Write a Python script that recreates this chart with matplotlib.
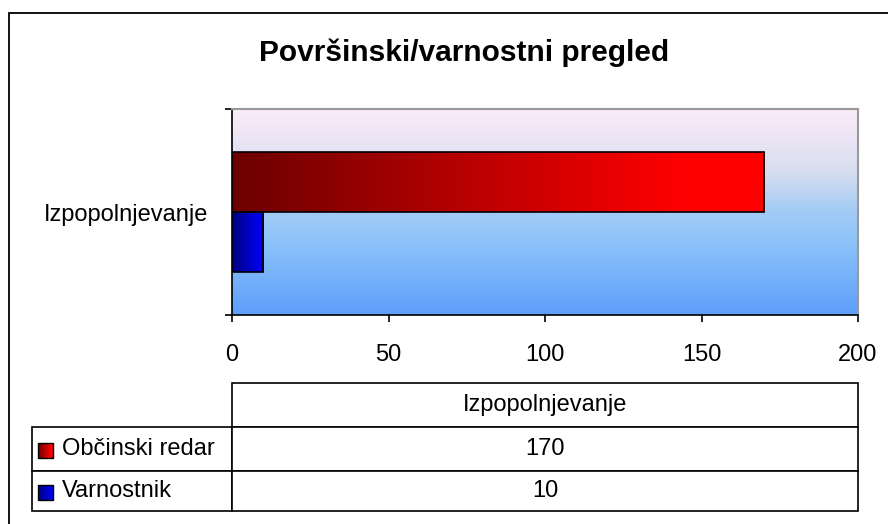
import numpy as np
import matplotlib
matplotlib.use('Agg')
import matplotlib.pyplot as plt
from matplotlib.colors import LinearSegmentedColormap
from matplotlib.patches import Rectangle
from matplotlib.table import Table

# Podatki
categories = ['Izpopolnjevanje']
series_names = ['Občinski redar', 'Varnostnik']
obcinski_redar = [170]
varnostnik = [10]
x_ticks = [0, 50, 100, 150, 200]

plt.rcParams['font.family'] = ['Liberation Sans', 'DejaVu Sans']
FS = 17

bg_cmap = LinearSegmentedColormap.from_list('bg', [
    (0.0, '#fcebf9'), (0.3, '#d8def0'), (0.5, '#a2cbf5'),
    (0.65, '#8cc3fb'), (1.0, '#5e9efa')])
red_cmap = LinearSegmentedColormap.from_list('red', [(0.0, '#6c0000'), (0.85, '#ff0000'), (1.0, '#ff0000')])
blue_cmap = LinearSegmentedColormap.from_list('blue', [(0.0, '#000080'), (1.0, '#0000ff')])
grad = np.linspace(0, 1, 256).reshape(1, -1)


def fill_gradient(ax, patch, cmap):
    # horizontalni preliv znotraj pravokotnika
    x, y = patch.get_x(), patch.get_y()
    w, h = patch.get_width(), patch.get_height()
    im = ax.imshow(grad, cmap=cmap, aspect='auto', extent=(x, x + w, y, y + h),
                   zorder=patch.get_zorder() - 0.1, interpolation='bilinear')
    im.set_clip_path(patch)


fig = plt.figure(figsize=(8.88, 5.24), dpi=100)

# zunanji okvir
fig.add_artist(Rectangle((9 / 888, -0.2), 1.2, 1.2 - 13 / 524,
                         transform=fig.transFigure, fill=False, ec='black', lw=1.3))

fig.text(464 / 888, 1 - 61 / 524, 'Površinski/varnostni pregled',
         ha='center', va='baseline', fontsize=21.5, fontweight='bold')

ax = fig.add_axes([232 / 888, 1 - 315 / 524, 626 / 888, 206 / 524])
ax.set_xlim(0, 200)

# ozadje z vertikalnim prelivom (svetlo zgoraj, modro spodaj)
ax.imshow(np.linspace(0, 1, 256).reshape(-1, 1), cmap=bg_cmap, aspect='auto',
          extent=(0, 200, -0.5, 0.5), zorder=0, interpolation='bilinear')
ax.set_ylim(-0.5, 0.5)

bar_h = 0.29
y = np.arange(len(categories))
bars_r = ax.barh(y + bar_h / 2, obcinski_redar, height=bar_h, facecolor='none',
                 edgecolor='black', linewidth=1.2, zorder=3)
bars_b = ax.barh(y - bar_h / 2, varnostnik, height=bar_h, facecolor='none',
                 edgecolor='black', linewidth=1.2, zorder=3)
for p in bars_r:
    fill_gradient(ax, p, red_cmap)
for p in bars_b:
    fill_gradient(ax, p, blue_cmap)

ax.set_xticks(x_ticks)
ax.set_xticklabels([str(t) for t in x_ticks], fontsize=FS)
ax.set_yticks([-0.5, 0.5])
ax.set_yticklabels([])
ax.set_yticks(y, labels=categories, minor=True)
ax.tick_params(axis='y', which='minor', length=0, pad=17, labelsize=FS)
ax.tick_params(axis='both', which='major', direction='out', length=5, width=1.2, color='black')
ax.tick_params(axis='x', pad=16)
for s in ['left', 'bottom']:
    ax.spines[s].set_color('black')
    ax.spines[s].set_linewidth(1.2)
for s in ['top', 'right']:
    ax.spines[s].set_color('#999999')
    ax.spines[s].set_linewidth(1.5)

# tabela s podatki
tax = fig.add_axes([32 / 888, 1 - 511 / 524, 826 / 888, 128 / 524])
tax.set_xlim(0, 826)
tax.set_ylim(128, 0)
tax.axis('off')
tbl = Table(tax, bbox=[0, 0, 1, 1])
w_lab, w_val = 200, 626
tbl.add_cell(0, 1, w_val, 44, text=categories[0], loc='center')
for i, (name, val) in enumerate(zip(series_names, [obcinski_redar[0], varnostnik[0]])):
    h = 44 if i == 0 else 40
    c = tbl.add_cell(i + 1, 0, w_lab, h, text=name, loc='left')
    c.PAD = 0.15
    tbl.add_cell(i + 1, 1, w_val, h, text=str(val), loc='center')
tbl.auto_set_font_size(False)
tbl.set_fontsize(FS)
for cell in tbl.get_celld().values():
    cell.set_edgecolor('black')
    cell.set_linewidth(1.2)
tax.add_table(tbl)

# legendne ikone v tabeli
for top, cmap in [(60, red_cmap), (102, blue_cmap)]:
    sq = Rectangle((6, top), 15, 15, fill=False, ec='black', lw=1.0, zorder=5)
    tax.add_patch(sq)
    fill_gradient(tax, sq, cmap)

fig.savefig('out.png', dpi=100)
